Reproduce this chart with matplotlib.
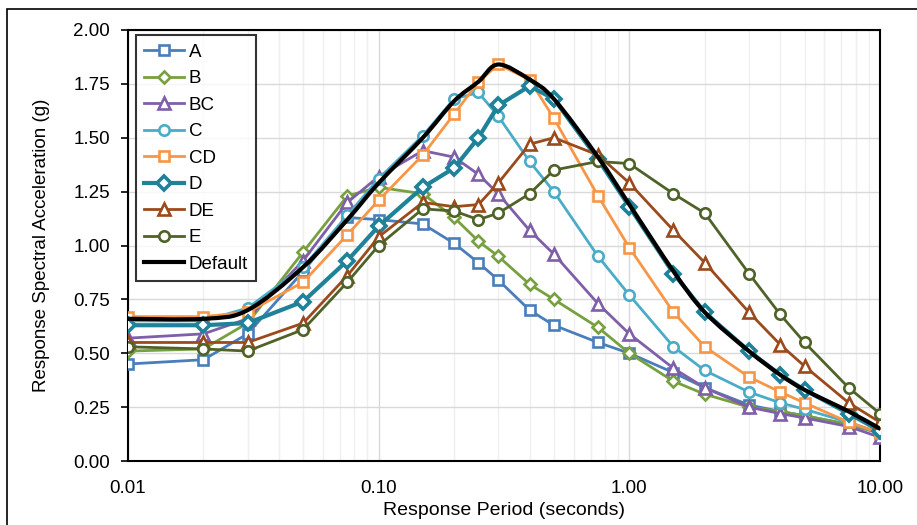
import numpy as np
import matplotlib
matplotlib.use("Agg")
import matplotlib.pyplot as plt
from matplotlib.path import Path
from matplotlib.patches import PathPatch, Rectangle
from matplotlib.lines import Line2D
from matplotlib.ticker import FixedLocator, NullFormatter

plt.rcParams['font.family'] = ['Liberation Sans', 'DejaVu Sans']

periods = [0.01, 0.02, 0.03, 0.05, 0.075, 0.1, 0.15, 0.2, 0.25, 0.3, 0.4,
           0.5, 0.75, 1.0, 1.5, 2.0, 3.0, 4.0, 5.0, 7.5, 10.0]

site_A = [0.45, 0.47, 0.59, 0.88, 1.13, 1.12, 1.10, 1.01, 0.92, 0.84, 0.70,
          0.63, 0.55, 0.50, 0.41, 0.34, 0.26, 0.23, 0.21, 0.17, 0.13]
site_B = [0.51, 0.52, 0.64, 0.97, 1.23, 1.27, 1.24, 1.13, 1.02, 0.95, 0.82,
          0.75, 0.62, 0.50, 0.37, 0.31, 0.25, 0.23, 0.21, 0.17, 0.13]
site_BC = [0.57, 0.59, 0.66, 0.93, 1.20, 1.32, 1.44, 1.41, 1.33, 1.24, 1.07,
           0.96, 0.73, 0.59, 0.43, 0.34, 0.25, 0.22, 0.20, 0.16, 0.11]
site_C = [0.65, 0.65, 0.71, 0.90, 1.14, 1.31, 1.51, 1.68, 1.71, 1.60, 1.39,
          1.25, 0.95, 0.77, 0.53, 0.42, 0.32, 0.27, 0.24, 0.18, 0.13]
site_CD = [0.67, 0.67, 0.69, 0.83, 1.05, 1.21, 1.42, 1.61, 1.76, 1.84, 1.77,
           1.59, 1.23, 0.99, 0.69, 0.53, 0.39, 0.32, 0.27, 0.18, 0.13]
site_D = [0.63, 0.63, 0.64, 0.74, 0.93, 1.09, 1.27, 1.36, 1.50, 1.65, 1.74,
          1.68, 1.40, 1.18, 0.87, 0.69, 0.51, 0.40, 0.33, 0.22, 0.14]
site_DE = [0.55, 0.55, 0.55, 0.64, 0.86, 1.04, 1.20, 1.18, 1.19, 1.29, 1.47,
           1.50, 1.42, 1.29, 1.07, 0.92, 0.69, 0.54, 0.44, 0.27, 0.18]
site_E = [0.53, 0.52, 0.51, 0.61, 0.83, 1.00, 1.17, 1.16, 1.12, 1.15, 1.24,
          1.35, 1.39, 1.38, 1.24, 1.15, 0.87, 0.68, 0.55, 0.34, 0.22]
default = [0.66, 0.66, 0.70, 0.90, 1.12, 1.29, 1.50, 1.67, 1.76, 1.84, 1.77,
           1.68, 1.41, 1.19, 0.88, 0.69, 0.51, 0.40, 0.33, 0.23, 0.15]

names = ['A', 'B', 'BC', 'C', 'CD', 'D', 'DE', 'E']
series = [site_A, site_B, site_BC, site_C, site_CD, site_D, site_DE, site_E]
colors = ['#4a7ebb', '#77a03f', '#7f5fa8', '#4aacc6', '#f79646', '#1f8299',
          '#9a4a1c', '#4f6228']
markers = ['s', 'D', '^', 'o', 's', 'D', '^', 'o']
msizes = [7, 6, 9, 7.5, 7.5, 7.5, 9, 7.5]

W, H = 917, 525
fig = plt.figure(figsize=(W / 100, H / 100), dpi=100)
ax = fig.add_axes([128 / W, 1 - 461 / H, 752 / W, 431 / H])

# chart border
fig.patches.append(Rectangle((7 / W, -0.05), 1.2, 1 - 9 / H + 0.05,
                             transform=fig.transFigure, fill=False,
                             edgecolor='black', lw=1.2))

handles = []
for name, vals, c, m, ms in zip(names, series, colors, markers, msizes):
    lw = 3.0 if name == 'D' else 2.0
    mew = 2.6 if name == 'D' else 1.9
    ln, = ax.plot(periods, vals, color=c, marker=m, ms=ms, lw=lw,
                  mfc='white', mec=c, mew=mew, label=name, zorder=3)
    handles.append(ln)

# smoothed default curve (Excel style), control points in log-x space
lx = np.log10(periods)
ly = np.array(default)
pts = np.column_stack([lx, ly])
verts = [pts[0]]
codes = [Path.MOVETO]
n = len(pts)
for i in range(n - 1):
    p0 = pts[i - 1] if i > 0 else pts[i]
    p1 = pts[i]
    p2 = pts[i + 1]
    p3 = pts[i + 2] if i + 2 < n else pts[i + 1]
    c1 = p1 + (p2 - p0) / 6.0
    c2 = p2 - (p3 - p1) / 6.0
    verts += [c1, c2, p2]
    codes += [Path.CURVE4] * 3
verts = np.array(verts)
verts[:, 0] = 10 ** verts[:, 0]
ax.add_patch(PathPatch(Path(verts, codes), fill=False, edgecolor='black',
                       lw=3.0, zorder=4, capstyle='round', joinstyle='round'))
handles.append(Line2D([], [], color='black', lw=3.0, label='Default'))

ax.set_xscale('log')
ax.set_xlim(0.01, 10)
ax.set_ylim(0, 2)
yt = np.arange(0, 2.01, 0.25)
ax.set_yticks(yt)
ax.set_yticklabels(['%.2f' % v for v in yt])
ax.set_xticks([0.01, 0.1, 1, 10])
ax.set_xticklabels(['0.01', '0.10', '1.00', '10.00'])
minor = [k * 10.0 ** e for e in range(-2, 1) for k in range(2, 10)]
ax.xaxis.set_minor_locator(FixedLocator(minor))
ax.xaxis.set_minor_formatter(NullFormatter())

ax.grid(True, which='major', axis='both', color='#d9d9d9', lw=1.0, zorder=0)
ax.grid(True, which='minor', axis='x', color='#efefef', lw=1.0, zorder=0)
ax.set_axisbelow(True)

ax.tick_params(axis='x', which='both', length=0, pad=14, labelsize=13.5)
ax.tick_params(axis='y', which='major', length=5, width=1.2, direction='out',
               labelsize=13.5, pad=8)
for s in ax.spines.values():
    s.set_linewidth(1.5)
    s.set_color('black')

ax.set_xlabel('Response Period (seconds)', fontsize=14, labelpad=3)
ax.set_ylabel('Response Spectral Acceleration (g)', fontsize=13.5,
              labelpad=17)

leg = ax.legend(handles=handles, loc='upper left', fontsize=13.5,
                bbox_to_anchor=(136 / W, 1 - 35 / H),
                bbox_transform=fig.transFigure, borderaxespad=0,
                frameon=True, fancybox=False, edgecolor='black',
                handlelength=2.1, handletextpad=0.25,
                labelspacing=0.5, borderpad=0.45)
leg.get_frame().set_linewidth(1.5)

fig.savefig('out.png', dpi=100)
